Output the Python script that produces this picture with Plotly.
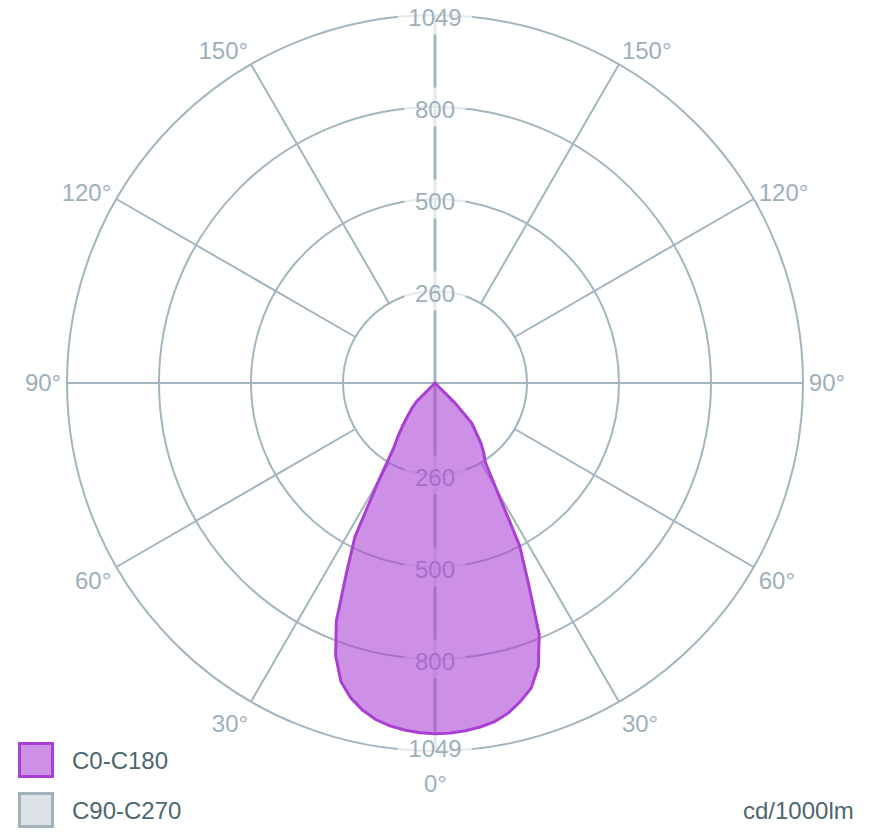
import plotly.graph_objects as go

# ---------------- data ----------------
gamma = [0, 2.5, 5, 7.5, 10, 12.5, 15, 17.5, 20, 22.5, 25, 27.5, 30, 32.5,
         35, 37.5, 40, 42.5, 45, 47.5, 50, 55, 60, 65, 70, 75, 80, 85, 90]
c0_values = [1000, 999, 995, 989, 980, 964, 940, 912, 861, 776, 630, 522, 350, 266,
             242, 214, 180, 155, 80, 0, 0, 0, 0, 0, 0, 0, 0, 0, 0]
c180_values = [1000, 998, 993, 986, 974, 955, 929, 892, 828, 735, 597, 494, 320, 219,
               182, 148, 119, 97, 74, 0, 0, 0, 0, 0, 0, 0, 0, 0, 0]

r_max = 1049
ring_values = [262.25, 524.5, 786.75, 1049]
ring_labels = ["260", "500", "800", "1049"]
angle_ticks = [0, 30, 60, 90, 120, 150, 180, 210, 240, 270, 300, 330]
angle_labels = ["", "30°", "60°", "90°", "120°", "150°", "", "150°", "120°", "90°", "60°", "30°"]
zero_label = "0°"
spoke_angles = [30, 60, 120, 150, 210, 240, 300, 330]
series_names = ["C0-C180", "C90-C270"]
unit_label = "cd/1000lm"

# ---------------- style ----------------
FONT = "Liberation Sans, Arial, sans-serif"
GRID = "#a3b5be"
LABEL = "#9db0ba"
DARK = "#4d6770"
PURPLE_LINE = "#aa3fd4"
PURPLE_FILL = "rgba(170,63,212,0.58)"
GRAY_FILL = "#dde3e6"
GRAY_LINE = "#a3b3bb"

W, H = 870, 840
cx, cy, R = 435, 383, 368          # polar centre / radius in figure pixels
text_shift = 13                     # nudge ring labels a few px downward (data units)

fig = go.Figure()

# spokes (start at the innermost ring)
sr, st = [], []
for a in spoke_angles:
    sr += [ring_values[0], r_max, None]
    st += [a, a, None]
fig.add_trace(go.Scatterpolar(r=sr, theta=st, mode="lines",
                              line=dict(color=GRID, width=2),
                              hoverinfo="skip", showlegend=False))
# horizontal axis line
fig.add_trace(go.Scatterpolar(r=[r_max, r_max], theta=[90, 270], mode="lines",
                              line=dict(color=GRID, width=2),
                              hoverinfo="skip", showlegend=False))
# vertical axis line (thicker)
fig.add_trace(go.Scatterpolar(r=[r_max, r_max], theta=[180, 0], mode="lines",
                              line=dict(color=GRID, width=3),
                              hoverinfo="skip", showlegend=False))

# ring labels top and bottom with white boxes
lab_r = ring_values + ring_values
lab_t = [180] * len(ring_values) + [0] * len(ring_values)
lab_txt = ring_labels + ring_labels
box_sizes = [(len(t) * 13.4 + 21) / 1.4 for t in lab_txt]
fig.add_trace(go.Scatterpolar(r=lab_r, theta=lab_t, mode="markers",
                              marker=dict(symbol="line-ew", size=box_sizes, color="white",
                                          line=dict(color="white", width=39)),
                              cliponaxis=False, hoverinfo="skip", showlegend=False))
txt_r = [v - text_shift for v in ring_values] + [v + text_shift for v in ring_values]
fig.add_trace(go.Scatterpolar(r=[min(v, r_max) for v in txt_r], theta=lab_t, mode="text",
                              text=lab_txt, textposition="middle center",
                              textfont=dict(family=FONT, size=24, color=LABEL),
                              cliponaxis=False, hoverinfo="skip", showlegend=False))

# data curve: C0 on right half, C180 on left half
theta_curve = gamma + [360 - g for g in reversed(gamma)]
r_curve = c0_values + list(reversed(c180_values))
fig.add_trace(go.Scatterpolar(r=r_curve, theta=theta_curve, mode="lines",
                              fill="toself", fillcolor=PURPLE_FILL,
                              line=dict(color=PURPLE_LINE, width=3),
                              name=series_names[0], showlegend=False))

fig.update_layout(
    width=W, height=H,
    margin=dict(l=0, r=0, t=0, b=0),
    paper_bgcolor="white",
    font=dict(family=FONT, size=24, color=LABEL),
    showlegend=False,
    polar=dict(
        domain=dict(x=[(cx - R) / W, (cx + R) / W],
                    y=[(H - cy - R) / H, (H - cy + R) / H]),
        bgcolor="white",
        radialaxis=dict(range=[0, r_max], tickmode="array", tickvals=ring_values,
                        showticklabels=False, ticks="", showline=False,
                        gridcolor=GRID, gridwidth=2, layer="below traces"),
        angularaxis=dict(rotation=-90, direction="counterclockwise",
                         tickmode="array", tickvals=angle_ticks, ticktext=angle_labels,
                         showgrid=False, ticks="", showline=True,
                         linecolor=GRID, linewidth=2, layer="below traces",
                         tickfont=dict(family=FONT, size=24, color=LABEL)),
    ),
)

# 0° label below the bottom "1049"
fig.add_annotation(x=cx / W, y=1 - (cy + R + 32) / H, xref="paper", yref="paper",
                   text=zero_label, showarrow=False, xanchor="center", yanchor="middle",
                   font=dict(family=FONT, size=24, color=LABEL))

# custom legend
legend_items = [(series_names[0], PURPLE_FILL, PURPLE_LINE, 760),
                (series_names[1], GRAY_FILL, GRAY_LINE, 810)]
for name, fc, lc, yc in legend_items:
    fig.add_shape(type="rect", xref="paper", yref="paper",
                  x0=19.5 / W, x1=52.5 / W, y0=1 - (yc + 16.5) / H, y1=1 - (yc - 16.5) / H,
                  fillcolor=fc, line=dict(color=lc, width=3))
    fig.add_annotation(x=70 / W, y=1 - yc / H, xref="paper", yref="paper",
                       text=name, showarrow=False, xanchor="left", yanchor="middle",
                       font=dict(family=FONT, size=24, color=DARK))
fig.add_annotation(x=856 / W, y=1 - 810 / H, xref="paper", yref="paper",
                   text=unit_label, showarrow=False, xanchor="right", yanchor="middle",
                   font=dict(family=FONT, size=24, color=DARK))

# remove the default 8px page margin so the figure fills the 870x840 window
fig.write_html("out.html", config={"displayModeBar": False},
               post_script="document.body.style.margin='0px';")
